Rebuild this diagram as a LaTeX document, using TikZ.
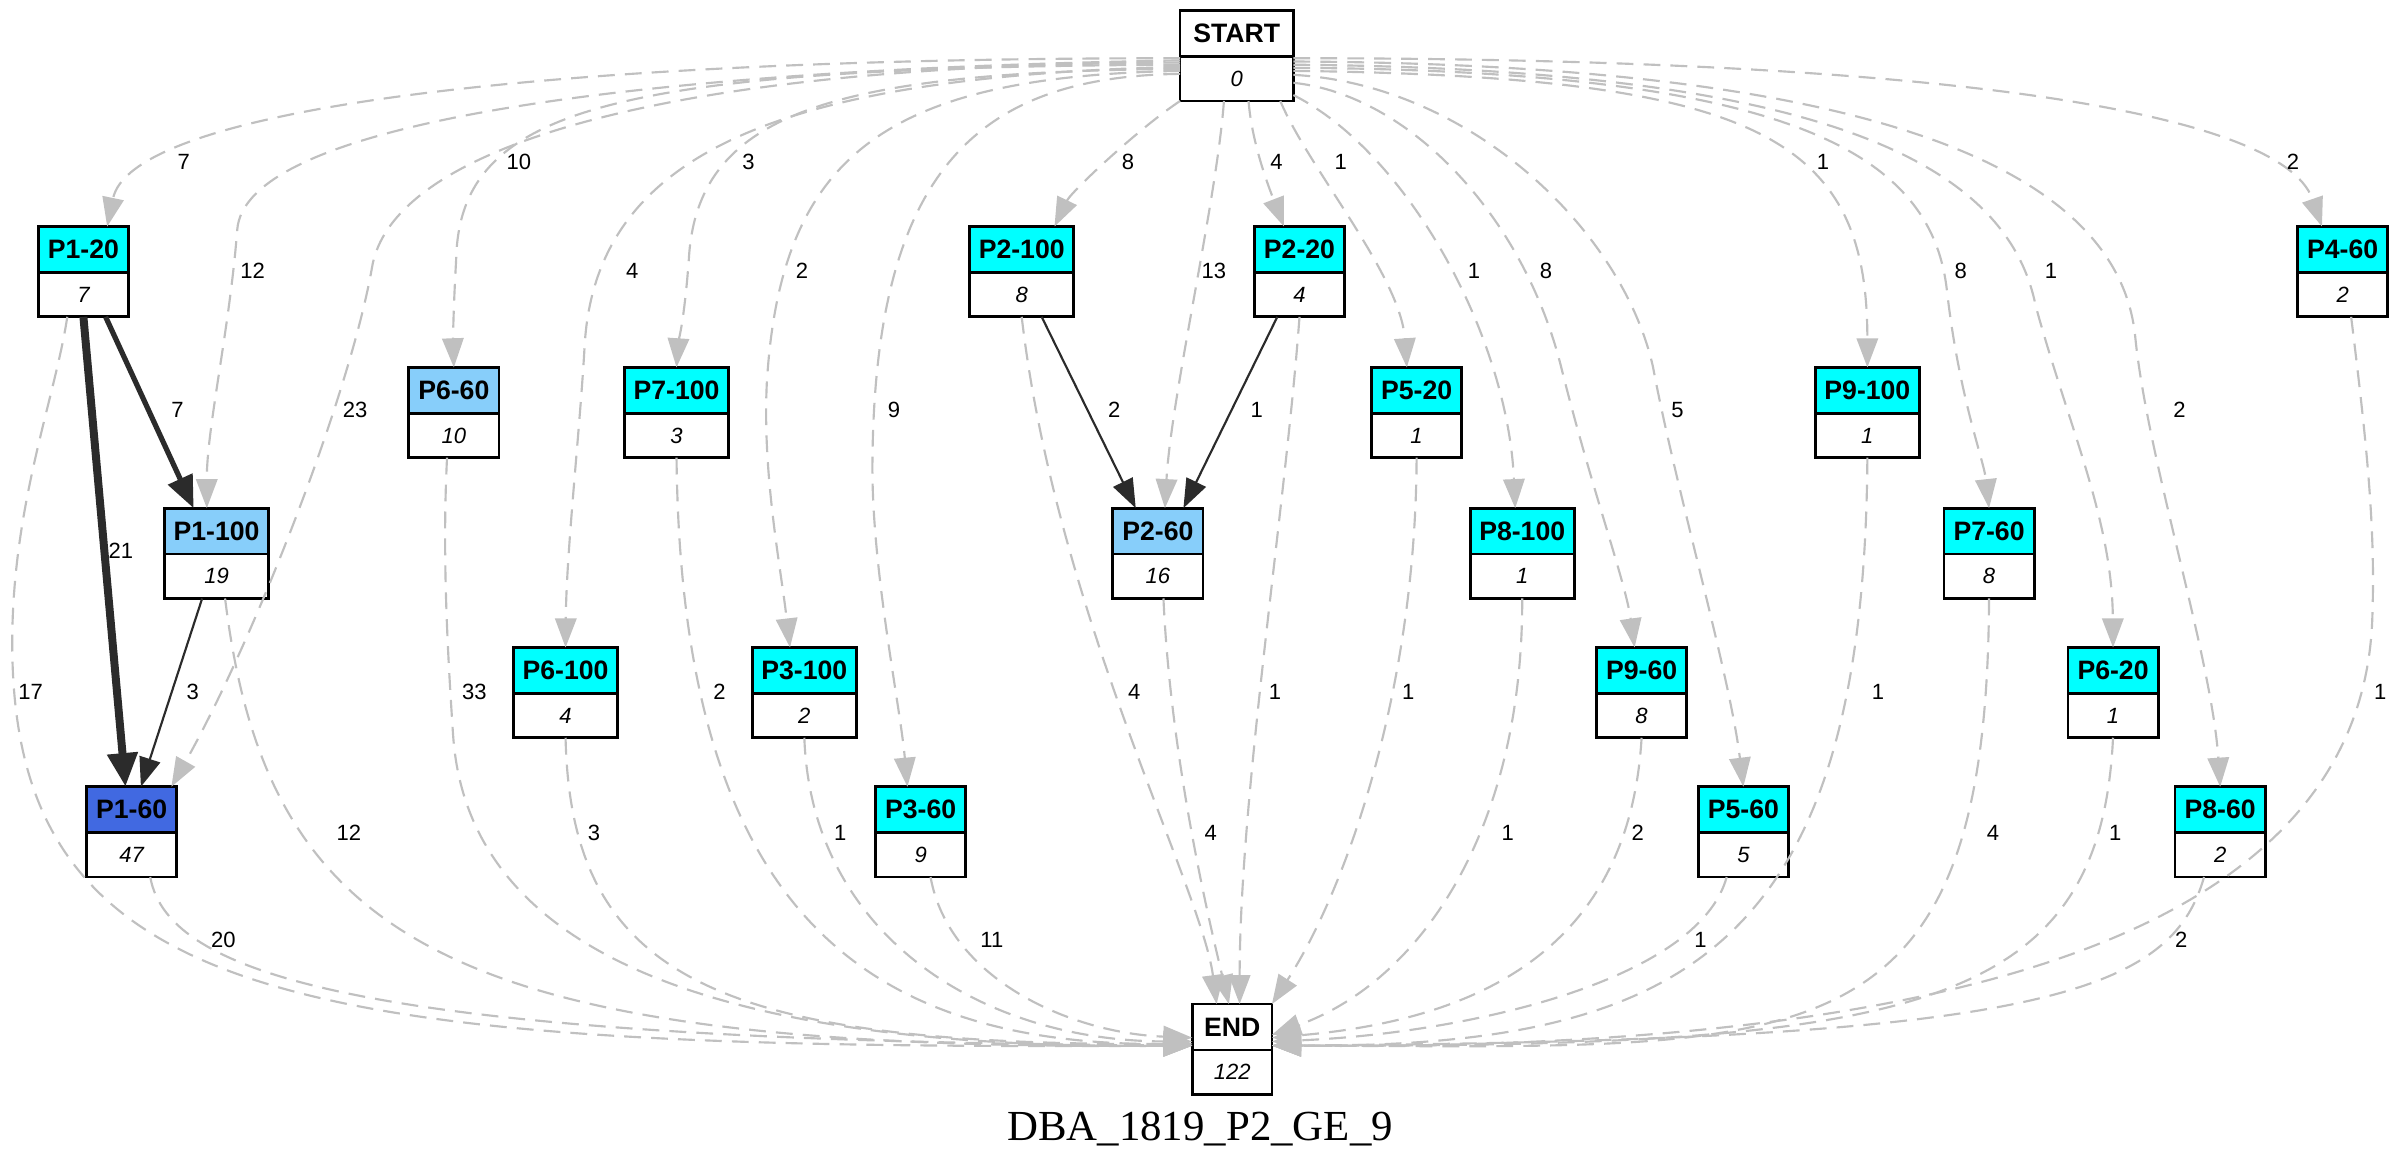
\documentclass[tikz,border=0pt]{standalone}
\usepackage{fontspec}
\setmainfont{Liberation Serif}
\newfontfamily\arialfont{Liberation Sans}
\usetikzlibrary{positioning,arrows.meta}

\definecolor{hdcyan}{HTML}{00FFFF}
\definecolor{hdsky}{HTML}{87CEFA}
\definecolor{hdroyal}{HTML}{4169E1}
\definecolor{flowgray}{HTML}{C0C0C0}
\definecolor{movedark}{HTML}{2B2B2B}

\tikzset{
	hdr/.style={draw, line width=0.9pt, minimum width=29.5pt, minimum height=15pt, inner sep=0pt, outer sep=0pt, font=\arialfont\bfseries\fontsize{8.7}{10}\selectfont},
	val/.style={draw, line width=0.9pt, minimum width=29.5pt, minimum height=14.5pt, inner sep=0pt, outer sep=0pt, font=\arialfont\itshape\fontsize{7.2}{8}\selectfont},
	wide/.style={minimum width=34pt},
	flow/.style={draw=flowgray, line width=0.7pt, dash pattern=on 5.5pt off 3.3pt, -{Triangle[length=9.5pt,width=7pt]}},
	move/.style={draw=movedark, line width=0.7pt, -{Triangle[length=9.5pt,width=7pt]}},
	cnt/.style={font=\arialfont\fontsize{7.2}{8}\selectfont, inner sep=0pt},
}

\begin{document}
\begin{tikzpicture}[x=0.5pt,y=-0.5pt]
				\fill[white] (0,0) rectangle (1568,765);
				\useasboundingbox (0,0) rectangle (1568,765);

				\node[hdr, minimum width=37pt] (start) at (808,22) {START};
				\node[val, minimum width=37pt, below=0pt of start] (start-v) {0};
				\node[hdr, minimum width=26pt] (end) at (805,671) {END};
				\node[val, minimum width=26pt, below=0pt of end] (end-v) {122};

				\node[hdr, fill=hdcyan] (p1-20) at (54.5,163) {P1-20};
				\node[val, below=0pt of p1-20] (p1-20v) {7};
				\node[hdr, wide, fill=hdcyan] (p2-100) at (667.5,163) {P2-100};
				\node[val, wide, below=0pt of p2-100] (p2-100v) {8};
				\node[hdr, fill=hdcyan] (p2-20) at (849,163) {P2-20};
				\node[val, below=0pt of p2-20] (p2-20v) {4};
				\node[hdr, fill=hdcyan] (p4-60) at (1530.5,163) {P4-60};
				\node[val, below=0pt of p4-60] (p4-60v) {2};

				\node[hdr, fill=hdsky] (p6-60) at (296.5,255) {P6-60};
				\node[val, below=0pt of p6-60] (p6-60v) {10};
				\node[hdr, wide, fill=hdcyan] (p7-100) at (442,255) {P7-100};
				\node[val, wide, below=0pt of p7-100] (p7-100v) {3};
				\node[hdr, fill=hdcyan] (p5-20) at (925.5,255) {P5-20};
				\node[val, below=0pt of p5-20] (p5-20v) {1};
				\node[hdr, wide, fill=hdcyan] (p9-100) at (1220,255) {P9-100};
				\node[val, wide, below=0pt of p9-100] (p9-100v) {1};

				\node[hdr, wide, fill=hdsky] (p1-100) at (141.5,347) {P1-100};
				\node[val, wide, below=0pt of p1-100] (p1-100v) {19};
				\node[hdr, fill=hdsky] (p2-60) at (756.5,347) {P2-60};
				\node[val, below=0pt of p2-60] (p2-60v) {16};
				\node[hdr, wide, fill=hdcyan] (p8-100) at (994.5,347) {P8-100};
				\node[val, wide, below=0pt of p8-100] (p8-100v) {1};
				\node[hdr, fill=hdcyan] (p7-60) at (1299.5,347) {P7-60};
				\node[val, below=0pt of p7-60] (p7-60v) {8};

				\node[hdr, wide, fill=hdcyan] (p6-100) at (369.5,438) {P6-100};
				\node[val, wide, below=0pt of p6-100] (p6-100v) {4};
				\node[hdr, wide, fill=hdcyan] (p3-100) at (525.5,438) {P3-100};
				\node[val, wide, below=0pt of p3-100] (p3-100v) {2};
				\node[hdr, fill=hdcyan] (p9-60) at (1072.5,438) {P9-60};
				\node[val, below=0pt of p9-60] (p9-60v) {8};
				\node[hdr, fill=hdcyan] (p6-20) at (1380.5,438) {P6-20};
				\node[val, below=0pt of p6-20] (p6-20v) {1};

				\node[hdr, fill=hdroyal] (p1-60) at (86,529) {P1-60};
				\node[val, below=0pt of p1-60] (p1-60v) {47};
				\node[hdr, fill=hdcyan] (p3-60) at (601.5,529) {P3-60};
				\node[val, below=0pt of p3-60] (p3-60v) {9};
				\node[hdr, fill=hdcyan] (p5-60) at (1139,529) {P5-60};
				\node[val, below=0pt of p5-60] (p5-60v) {5};
				\node[hdr, fill=hdcyan] (p8-60) at (1450.5,529) {P8-60};
				\node[val, below=0pt of p8-60] (p8-60v) {2};

				% from START
				\draw[flow] (start-v.160) .. controls (315,38) and (85,76) .. (p1-20.44);
				\draw[flow] (start-v.162) .. controls (380,46) and (160,85) .. (155,150) .. controls (150,215) and (135,280) .. (p1-100.113);
				\draw[flow] (start-v.164) .. controls (420,42) and (255,100) .. (243,175) .. controls (228,260) and (165,420) .. (p1-60.30);
				\draw[flow] (start-v.166) .. controls (400,44) and (300,70) .. (298,170) .. controls (296,205) and (296,225) .. (p6-60.north);
				\draw[flow] (start-v.168) .. controls (520,50) and (390,95) .. (382,225) .. controls (379,280) and (370,360) .. (p6-100.north);
				\draw[flow] (start-v.170) .. controls (540,47) and (455,75) .. (450,170) .. controls (447,210) and (443,225) .. (p7-100.north);
				\draw[flow] (start-v.172) .. controls (580,50) and (510,100) .. (501,250) .. controls (498,310) and (510,370) .. (p3-100.122);
				\draw[flow] (start-v.175) .. controls (640,50) and (572,110) .. (570,300) .. controls (569,370) and (588,460) .. (p3-60.120);
				\draw[flow] (start-v.south west) .. controls (745,83) and (700,125) .. (p2-100.35);
				\draw[flow] (start-v.240) .. controls (795,130) and (765,260) .. (p2-60.73);
				\draw[flow] (start-v.-62) .. controls (818,95) and (830,125) .. (p2-20.124);
				\draw[flow] (start-v.-27) .. controls (855,110) and (915,180) .. (p5-20.113);
				\draw[flow] (start-v.-16) .. controls (920,100) and (985,220) .. (p8-100.107);
				\draw[flow] (start-v.-4) .. controls (920,62) and (995,140) .. (1020,240) .. controls (1040,320) and (1062,380) .. (p9-60.107);
				\draw[flow] (start-v.4) .. controls (960,55) and (1060,150) .. (1080,240) .. controls (1095,320) and (1130,440) .. (p5-60.north);
				\draw[flow] (start-v.8) .. controls (1150,50) and (1220,90) .. (p9-100.north);
				\draw[flow] (start-v.11) .. controls (1170,46) and (1262,100) .. (1272,190) .. controls (1280,260) and (1296,300) .. (p7-60.north);
				\draw[flow] (start-v.14) .. controls (1200,45) and (1312,110) .. (1330,200) .. controls (1352,280) and (1380,340) .. (p6-20.north);
				\draw[flow] (start-v.17) .. controls (1250,42) and (1385,120) .. (1395,220) .. controls (1403,300) and (1445,430) .. (p8-60.north);
				\draw[flow] (start-v.20) .. controls (1250,38) and (1490,70) .. (p4-60.132);

				% between pages
				\draw[move, line width=2.6pt, -{Triangle[length=11pt,width=9.5pt]}] (p1-20v.south) -- (p1-60.105);
				\draw[move, line width=1.7pt, -{Triangle[length=10.5pt,width=8.5pt]}] (p1-20v.-45) -- (p1-100.135);
				\draw[move] (p1-100v.-123) -- (p1-60.68);
				\draw[move] (p2-100v.-48) -- (p2-60.134);
				\draw[move] (p2-20v.-135) -- (p2-60.42);

				% to END
				\draw[flow] (p1-20v.-126) .. controls (36,260) and (8,330) .. (8,420) .. controls (8,660) and (200,686) .. (end.205);
				\draw[flow] (p1-60v.-50) .. controls (110,640) and (250,680) .. (end.205);
				\draw[flow] (p1-100v.-69) .. controls (175,620) and (300,686) .. (end.205);
				\draw[flow] (p6-60v.-107) .. controls (289,360) and (292,420) .. (296,480) .. controls (304,600) and (420,686) .. (end.205);
				\draw[flow] (p6-100v.south) .. controls (373,640) and (470,683) .. (end.203);
				\draw[flow] (p7-100v.south) .. controls (445,590) and (560,683) .. (end.203);
				\draw[flow] (p3-100v.south) .. controls (530,610) and (640,680) .. (end.200);
				\draw[flow] (p3-60v.-66) .. controls (620,640) and (700,675) .. (end.195);
				\draw[flow] (p2-100v.south) .. controls (690,400) and (785,580) .. (end.124);
				\draw[flow] (p2-60v.-76) .. controls (765,500) and (792,610) .. (end.98);
				\draw[flow] (p2-20v.south) .. controls (840,330) and (810,520) .. (end.72);
				\draw[flow] (p5-20v.south) .. controls (925,450) and (880,580) .. (end.north east);
				\draw[flow] (p8-100v.south) .. controls (995,540) and (930,640) .. (end.-11);
				\draw[flow] (p9-60v.south) .. controls (1065,610) and (980,665) .. (end.-15);
				\draw[flow] (p5-60v.-127) .. controls (1110,640) and (960,675) .. (end.-20);
				\draw[flow] (p9-100v.south) .. controls (1218,620) and (1100,684) .. (end.-25);
				\draw[flow] (p7-60v.south) .. controls (1298,700) and (1180,684) .. (end.-25);
				\draw[flow] (p6-20v.south) .. controls (1372,660) and (1250,684) .. (end.-25);
				\draw[flow] (p8-60v.-126) .. controls (1418,650) and (1330,680) .. (end.-25);
				\draw[flow] (p4-60v.-69) .. controls (1545,280) and (1552,340) .. (1550,400) .. controls (1546,620) and (1250,686) .. (end.-25);

				% counts
				\node[cnt] (c1) at (120,106) {7};
				\node[cnt] (c2) at (165,177) {12};
				\node[cnt] (c3) at (232,268) {23};
				\node[cnt] (c4) at (339,106) {10};
				\node[cnt] (c5) at (413,177) {4};
				\node[cnt] (c6) at (489,106) {3};
				\node[cnt] (c7) at (524,177) {2};
				\node[cnt] (c8) at (584,268) {9};
				\node[cnt] (c9) at (737,106) {8};
				\node[cnt] (c10) at (793,177) {13};
				\node[cnt] (c11) at (834,106) {4};
				\node[cnt] (c12) at (876,106) {1};
				\node[cnt] (c13) at (963,177) {1};
				\node[cnt] (c14) at (1010,177) {8};
				\node[cnt] (c15) at (1096,268) {5};
				\node[cnt] (c16) at (1191,106) {1};
				\node[cnt] (c17) at (1281,177) {8};
				\node[cnt] (c18) at (1340,177) {1};
				\node[cnt] (c19) at (1424,268) {2};
				\node[cnt] (c20) at (1498,106) {2};

				\node[cnt] (c21) at (79,360) {21};
				\node[cnt] (c22) at (116,268) {7};
				\node[cnt] (c23) at (126,452) {3};
				\node[cnt] (c24) at (728,268) {2};
				\node[cnt] (c25) at (821,268) {1};

				\node[cnt] (c26) at (20,452) {17};
				\node[cnt] (c27) at (146,614) {20};
				\node[cnt] (c28) at (228,544) {12};
				\node[cnt] (c29) at (310,452) {33};
				\node[cnt] (c30) at (388,544) {3};
				\node[cnt] (c31) at (470,452) {2};
				\node[cnt] (c32) at (549,544) {1};
				\node[cnt] (c33) at (648,614) {11};
				\node[cnt] (c34) at (741,452) {4};
				\node[cnt] (c35) at (791,544) {4};
				\node[cnt] (c36) at (833,452) {1};
				\node[cnt] (c37) at (920,452) {1};
				\node[cnt] (c38) at (985,544) {1};
				\node[cnt] (c39) at (1070,544) {2};
				\node[cnt] (c40) at (1111,614) {1};
				\node[cnt] (c41) at (1227,452) {1};
				\node[cnt] (c42) at (1302,544) {4};
				\node[cnt] (c43) at (1382,544) {1};
				\node[cnt] (c44) at (1425,614) {2};
				\node[cnt] (c45) at (1555,452) {1};

				\node[font=\fontsize{14}{16}\selectfont, anchor=base, inner sep=0pt] (title) at (784,745) {DBA\_1819\_P2\_GE\_9};
			\end{tikzpicture}
\end{document}
